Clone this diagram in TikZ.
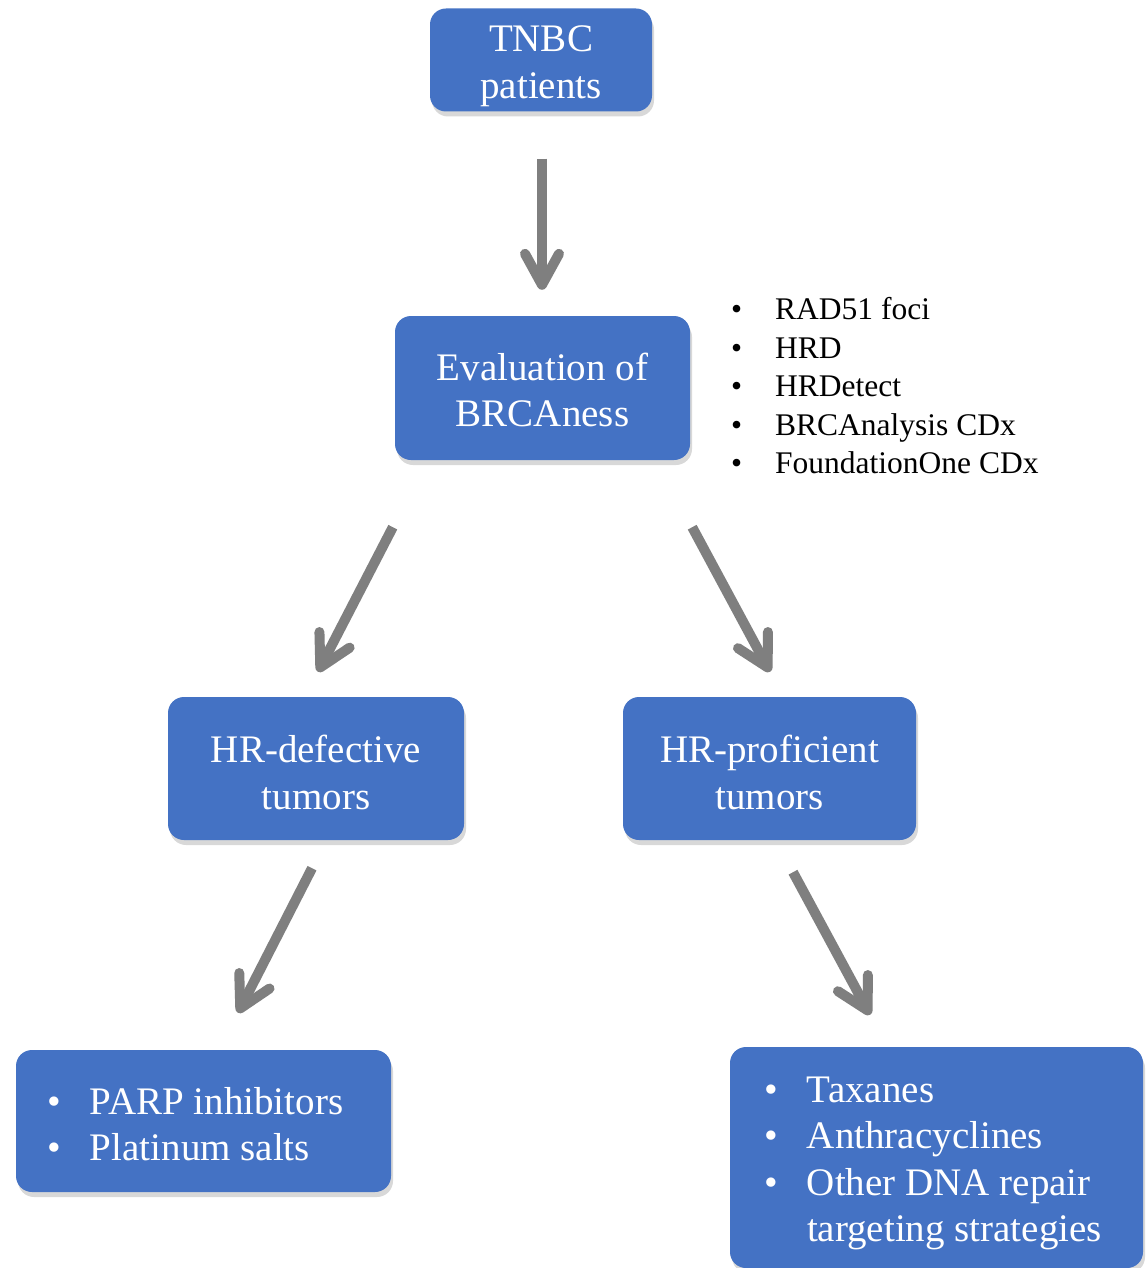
\documentclass[tikz,border=0pt]{standalone}
\usepackage{fontspec}
\setmainfont{Liberation Serif}
\usetikzlibrary{arrows.meta,shadows,calc}
\definecolor{boxblue}{HTML}{4472C4}
\definecolor{arrgray}{HTML}{7F7F7F}
\newcommand{\bitem}[2]{\makebox[#1][l]{\textbullet}#2}
\begin{document}
\begin{tikzpicture}[x=1pt,y=-1pt,
  box/.style={fill=boxblue, rounded corners=16pt, inner sep=0pt,
    drop shadow={shadow xshift=2pt, shadow yshift=-5pt, opacity=0.3}},
  btext/.style={text=white, font=\fontsize{39}{46.5}\selectfont, align=center, inner sep=0pt},
  ltext/.style={btext, align=left, anchor=west},
  arr/.style={draw=arrgray, line width=10pt,
    -{Straight Barb[length=31pt,width=34pt,line cap=round,line join=round]}},
  ]
\useasboundingbox (0,0) rectangle (1146,1268);
\fill[white] (0,0) rectangle (1146,1268);

\node[box, minimum width=222pt, minimum height=103pt] (tnbc) at (541,60) {};
\node[btext] (tnbcT) at ($(tnbc.center)+(0,6)$) {TNBC\\patients};
\node[box, minimum width=295pt, minimum height=144pt] (eval) at (542.5,388) {};
\node[btext] (evalT) at ($(eval.center)+(0,2)$) {Evaluation of\\BRCAness};
\node[box, minimum width=296pt, minimum height=143pt] (hrd) at (316,768.5) {};
\node[btext] (hrdT) at ($(hrd.center)+(0,4)$) {HR-defective\\tumors};
\node[box, minimum width=293pt, minimum height=143pt] (hrp) at (769.5,768.5) {};
\node[btext] (hrpT) at ($(hrp.center)+(0,4)$) {HR-proficient\\tumors};
\node[box, minimum width=375pt, minimum height=142pt] (parp) at (203.5,1121) {};
\node[ltext] (parpT) at ($(parp.west)+(31,3)$)
  {\bitem{43pt}{PARP inhibitors}\\\bitem{43pt}{Platinum salts}};
\node[box, minimum width=413pt, minimum height=221pt] (other) at (936.5,1157.5) {};
\node[ltext] (otherT) at ($(other.west)+(34,6)$)
  {\bitem{43pt}{Taxanes}\\\bitem{43pt}{Anthracyclines}\\\bitem{43pt}{Other DNA repair}\\\hspace*{43pt}targeting strategies};

\node[anchor=west, align=left, inner sep=0pt, font=\fontsize{31.5}{38.5}\selectfont] (tests) at (731,386)
  {\bitem{44pt}{RAD51 foci}\\\bitem{44pt}{HRD}\\\bitem{44pt}{HRDetect}\\\bitem{44pt}{BRCAnalysis CDx}\\\bitem{44pt}{FoundationOne CDx}};

\draw[arr] ($(tnbc.south)+(1,47)$) -- ($(eval.north)+(-0.5,-26)$);
\draw[arr] ($(eval.south west)+(-2,67)$) -- ($(hrd.north)+(2,-25)$);
\draw[arr] ($(eval.south east)+(2,67)$) -- ($(hrp.north)+(0.5,-25)$);
\draw[arr] ($(hrd.south)+(-4,28)$) -- ($(parp.north)+(34.5,-37)$);
\draw[arr] ($(hrp.south)+(23.5,32)$) -- ($(other.north)+(-66.5,-32)$);
\end{tikzpicture}
\end{document}
